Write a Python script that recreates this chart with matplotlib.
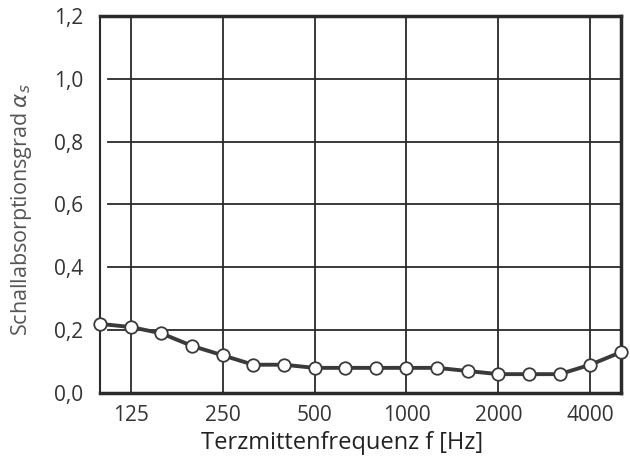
import matplotlib
matplotlib.use('Agg')
import matplotlib.pyplot as plt

# Terzmittenfrequenzen und Schallabsorptionsgrad
frequenzen = ['100', '125', '160', '200', '250', '315', '400', '500', '630',
              '800', '1000', '1250', '1600', '2000', '2500', '3150', '4000', '5000']
alpha_s = [0.22, 0.21, 0.19, 0.15, 0.12, 0.09, 0.09, 0.08, 0.08,
           0.08, 0.08, 0.08, 0.07, 0.06, 0.06, 0.06, 0.09, 0.13]
oktav_labels = ['125', '250', '500', '1000', '2000', '4000']
y_ticks = [0.0, 0.2, 0.4, 0.6, 0.8, 1.0, 1.2]

plt.rcParams['font.family'] = ['Open Sans', 'DejaVu Sans']

fig = plt.figure(figsize=(6.3, 4.59), dpi=100)
ax = fig.add_axes([0.1587, 0.1438, 0.827, 0.8214])

x = list(range(len(frequenzen)))
x_okt = [frequenzen.index(f) for f in oktav_labels]

# Gitter
for xv in x_okt:
    ax.axvline(xv, color='#2a2a2a', lw=1.3, zorder=1)
for yv in y_ticks[1:-1]:
    ax.axhline(yv, xmin=0.015, color='#2a2a2a', lw=1.3, zorder=1)

ax.plot(x, alpha_s, color='#3a3a3a', lw=2.8, marker='o', markersize=9,
        markerfacecolor='white', markeredgecolor='#3a3a3a', markeredgewidth=1.3,
        zorder=3, clip_on=False)

ax.set_xlim(0, len(frequenzen) - 1)
ax.set_ylim(0, 1.2)
ax.set_xticks(x_okt)
ax.set_xticklabels(oktav_labels)
ax.set_yticks(y_ticks)
ax.set_yticklabels([f'{v:.1f}'.replace('.', ',') for v in y_ticks])
ax.tick_params(length=0, labelsize=15, colors='#333333')
ax.tick_params(axis='y', pad=12)
ax.tick_params(axis='x', pad=9)

for s in ax.spines.values():
    s.set_color('#2a2a2a')
ax.spines['top'].set_linewidth(2.5)
ax.spines['right'].set_linewidth(2.5)
ax.spines['bottom'].set_linewidth(2.5)
ax.spines['left'].set_linewidth(1.5)

ax.set_xlabel('Terzmittenfrequenz f [Hz]', fontsize=17, color='#222222')
ax.xaxis.set_label_coords(0.465, -0.10)
ax.set_ylabel(r'Schallabsorptionsgrad $\alpha_s$', fontsize=15.5, color='#555555')
ax.yaxis.set_label_coords(-0.127, 0.485)

fig.savefig('out.png', dpi=100)
